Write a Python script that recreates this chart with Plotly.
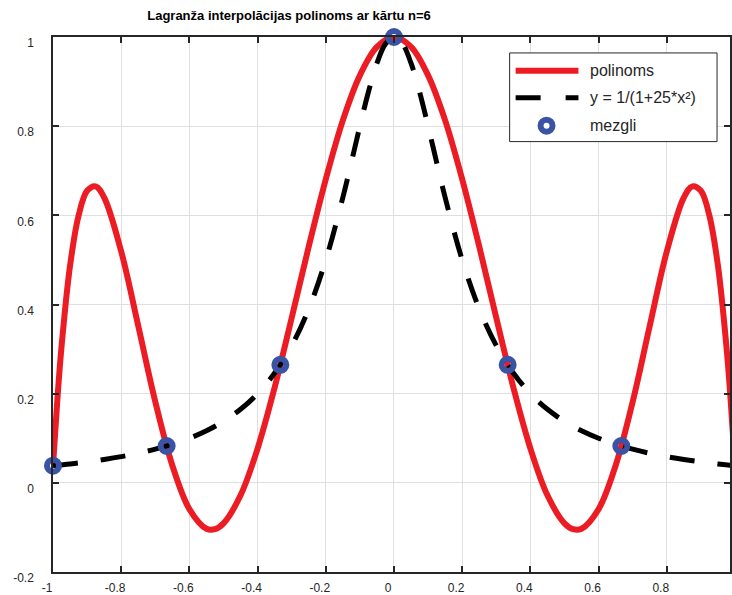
import plotly.graph_objects as go

# ---------------- data ----------------
poly_x = [-1, -0.9875, -0.975, -0.95, -0.925, -0.9, -0.875, -0.85, -0.8, -0.75, -0.7, -0.65, -0.6,
          -0.55, -0.525, -0.5, -0.45, -0.4, -0.35, -0.3, -0.25, -0.2, -0.15, -0.1, -0.05,
          0, 0.05, 0.1, 0.15, 0.2, 0.25, 0.3, 0.35, 0.4, 0.45, 0.5, 0.525, 0.55, 0.6, 0.65,
          0.7, 0.75, 0.8, 0.85, 0.875, 0.9, 0.925, 0.95, 0.975, 0.9875, 1]
poly_y = [0.038, 0.183, 0.305, 0.487, 0.599, 0.655, 0.665, 0.640, 0.519, 0.352, 0.182, 0.039, -0.059,
          -0.103, -0.104, -0.091, -0.028, 0.077, 0.214, 0.370, 0.530, 0.681, 0.813, 0.914, 0.978,
          1.0, 0.978, 0.914, 0.813, 0.681, 0.530, 0.370, 0.214, 0.077, -0.028, -0.091, -0.104, -0.103,
          -0.059, 0.039, 0.182, 0.352, 0.519, 0.640, 0.665, 0.655, 0.599, 0.487, 0.305, 0.183, 0.038]

runge_x = [-1, -0.95, -0.9, -0.85, -0.8, -0.75, -0.7, -0.65, -0.6, -0.55, -0.5, -0.45, -0.4,
           -0.35, -0.3, -0.25, -0.2, -0.15, -0.125, -0.1, -0.075, -0.05, -0.025,
           0, 0.025, 0.05, 0.075, 0.1, 0.125, 0.15, 0.2, 0.25, 0.3, 0.35, 0.4, 0.45, 0.5,
           0.55, 0.6, 0.65, 0.7, 0.75, 0.8, 0.85, 0.9, 0.95, 1]
runge_y = [0.0385, 0.0424, 0.0471, 0.0525, 0.0588, 0.0664, 0.0755, 0.0865, 0.100, 0.1168, 0.1379,
           0.1649, 0.200, 0.2462, 0.3077, 0.3902, 0.500, 0.640, 0.7191, 0.800, 0.8767, 0.9412, 0.9846,
           1.0, 0.9846, 0.9412, 0.8767, 0.800, 0.7191, 0.640, 0.500, 0.3902, 0.3077, 0.2462, 0.200,
           0.1649, 0.1379, 0.1168, 0.100, 0.0865, 0.0755, 0.0664, 0.0588, 0.0525, 0.0471, 0.0424, 0.0385]

node_x = [-1, -0.6667, -0.3333, 0, 0.3333, 0.6667, 1]
node_y = [0.0385, 0.0826, 0.2647, 1.0, 0.2647, 0.0826, 0.0385]

x_ticks = [-1, -0.8, -0.6, -0.4, -0.2, 0, 0.2, 0.4, 0.6, 0.8, 1]
x_ticklabels = ["-1", "-0.8", "-0.6", "-0.4", "-0.2", "0", "0.2", "0.4", "0.6", "0.8", "1"]
y_ticks = [-0.2, 0, 0.2, 0.4, 0.6, 0.8, 1]
y_ticklabels = ["-0.2", "0", "0.2", "0.4", "0.6", "0.8", "1"]

legend_labels = ["polinoms", "y = 1/(1+25*x²)", "mezgli"]
title_text = "Lagranža interpolācijas polinoms ar kārtu n=6"

# ---------------- styling ----------------
W, H = 732, 595
ML, MT, MB = 53, 37, 21
PW, PH = W - ML, H - MT - MB
RED = "#ec1c24"
BLUE = "#3a53a4"
AX = "#262626"
FONT = "Liberation Sans, Arial, sans-serif"


def px(xp):
    return (xp - ML) / PW


def py(yp):
    return (H - MB - yp) / PH


marker_style = dict(symbol="circle-open", size=12, color=BLUE, line=dict(width=6, color=BLUE))

fig = go.Figure()
fig.add_trace(go.Scatter(x=poly_x, y=poly_y, mode="lines",
                         line=dict(color=RED, width=6, shape="spline"),
                         name=legend_labels[0], showlegend=False))
fig.add_trace(go.Scatter(x=runge_x, y=runge_y, mode="lines",
                         line=dict(color="black", width=5, dash="25px,23px", shape="spline"),
                         name=legend_labels[1], showlegend=False))
# nodes inside the visible x-range: drawn unclipped
fig.add_trace(go.Scatter(x=node_x[:-1], y=node_y[:-1], mode="markers", marker=marker_style,
                         name=legend_labels[2], legendgroup="n", showlegend=False, cliponaxis=False))
# last node sits on the (cropped) right edge: clipped by the plot area
fig.add_trace(go.Scatter(x=node_x[-1:], y=node_y[-1:], mode="markers", marker=marker_style,
                         name=legend_labels[2], legendgroup="n", showlegend=False, cliponaxis=True))

# manual legend (MATLAB style)
shapes = [
    dict(type="rect", xref="paper", yref="paper", x0=px(511), x1=px(719), y0=py(142), y1=py(53),
         line=dict(color=AX, width=1), fillcolor="white", layer="above"),
    dict(type="line", xref="paper", yref="paper", x0=px(517), x1=px(580), y0=py(71), y1=py(71),
         line=dict(color=RED, width=6), layer="above"),
    dict(type="line", xref="paper", yref="paper", x0=px(517), x1=px(580), y0=py(98), y1=py(98),
         line=dict(color="black", width=5, dash="25px,25px"), layer="above"),
    dict(type="circle", xref="paper", yref="paper", x0=px(542), x1=px(554), y0=py(132), y1=py(120),
         line=dict(color=BLUE, width=6), fillcolor="white", layer="above"),
]
annotations = []
for lab, yy in zip(legend_labels, [71, 98, 126]):
    annotations.append(dict(text=lab, xref="paper", yref="paper", x=px(590), y=py(yy),
                            xanchor="left", yanchor="middle", showarrow=False,
                            font=dict(family=FONT, size=16, color=AX)))

fig.update_layout(
    width=W, height=H,
    margin=dict(l=ML, r=0, t=MT, b=MB, pad=0),
    plot_bgcolor="white", paper_bgcolor="white",
    showlegend=False,
    title=dict(text="<b>" + title_text + "</b>", x=289 / W, xanchor="center",
               y=1 - 15 / H, yanchor="middle", xref="container", yref="container",
               font=dict(family=FONT, size=13, color="black")),
    shapes=shapes, annotations=annotations,
    font=dict(family=FONT, size=12, color=AX),
)
fig.update_xaxes(range=[-1, -1 + PW / 342], tickvals=x_ticks, ticktext=x_ticklabels,
                 showgrid=True, gridcolor="#dfdfdf", gridwidth=1, zeroline=False,
                 showline=True, linecolor=AX, linewidth=1.5, mirror="ticks",
                 ticks="inside", ticklen=6, tickwidth=1.5, tickcolor=AX,
                 ticklabelshift=-6, ticklabelstandoff=4,
                 tickfont=dict(family=FONT, size=12, color=AX))
fig.update_yaxes(range=[-0.2, 1], tickvals=y_ticks, ticktext=y_ticklabels,
                 showgrid=True, gridcolor="#dfdfdf", gridwidth=1, zeroline=False,
                 showline=True, linecolor=AX, linewidth=1.5, mirror="ticks",
                 ticks="inside", ticklen=6, tickwidth=1.5, tickcolor=AX,
                 ticklabelshift=6, ticklabelstandoff=15,
                 tickfont=dict(family=FONT, size=12, color=AX))

fig.write_html("out.html")
